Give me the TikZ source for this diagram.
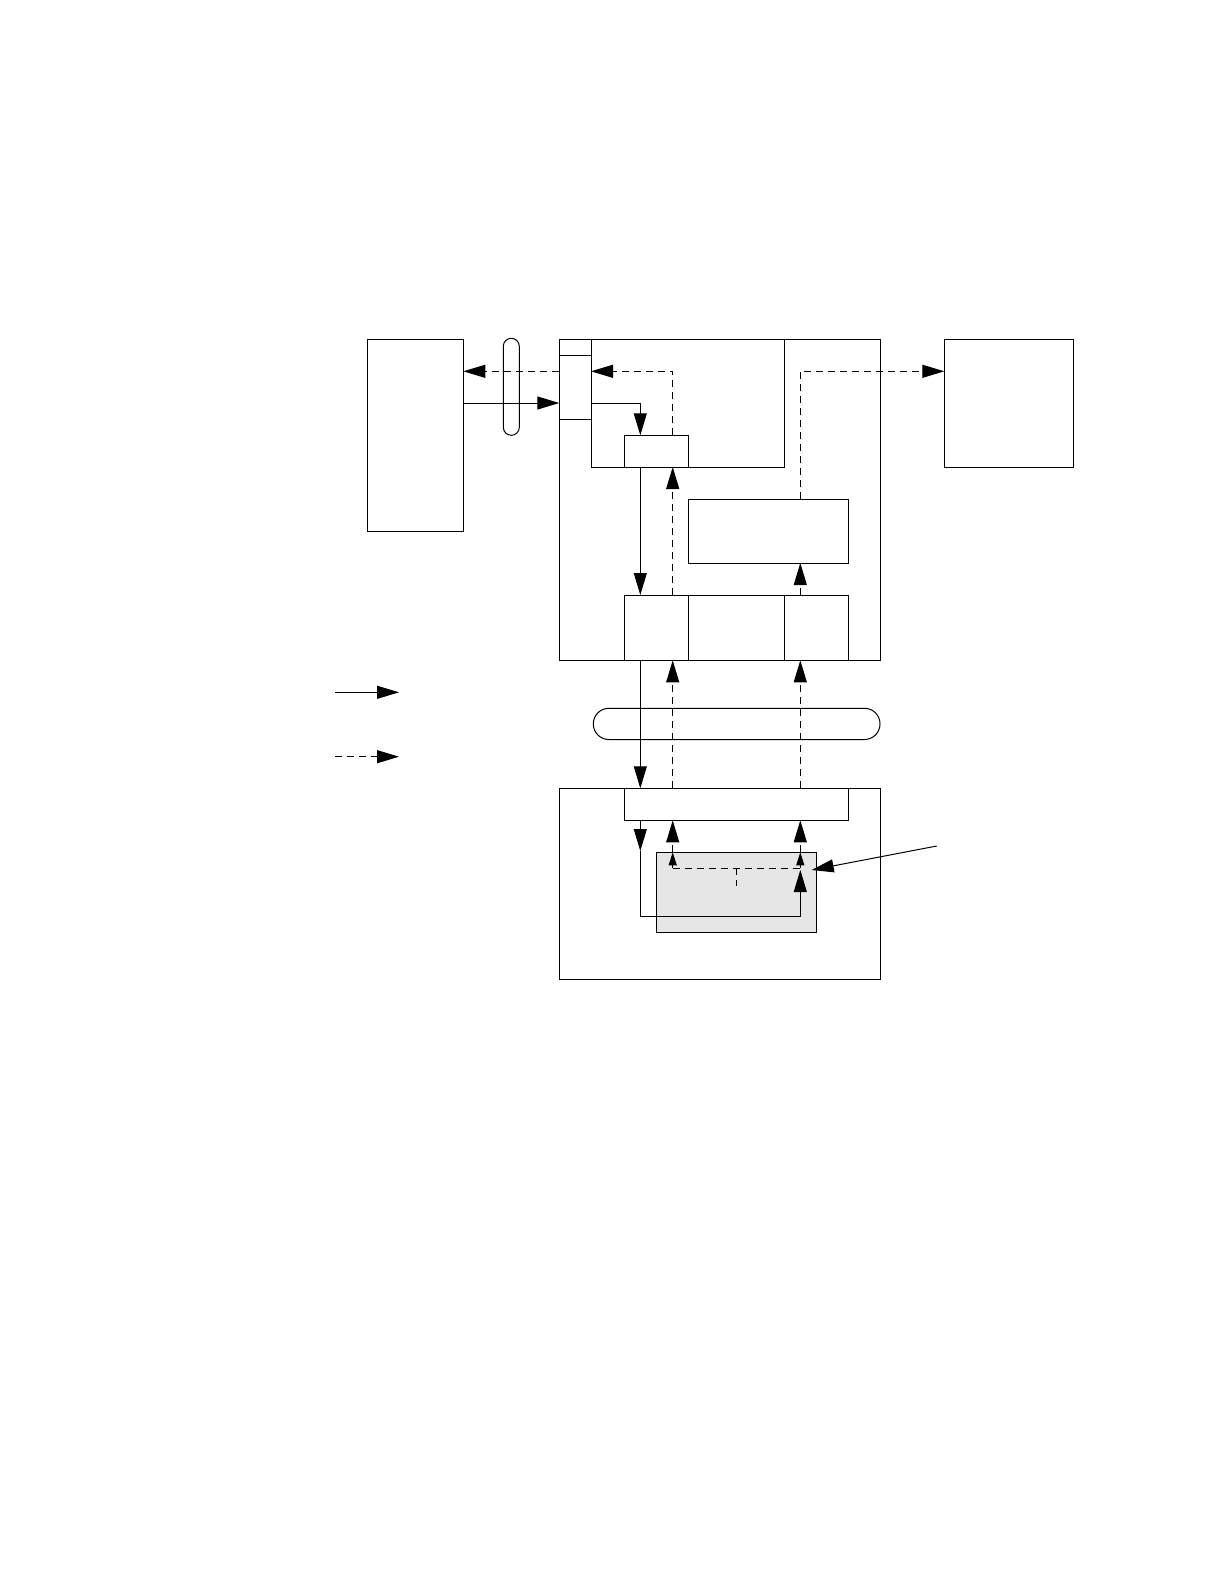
\documentclass[tikz,border=0pt]{standalone}
\usetikzlibrary{arrows.meta}
\definecolor{boxgray}{HTML}{E6E6E6}
\begin{document}
\begin{tikzpicture}[x=1pt,y=-1pt,
  line width=1pt,
  box/.style={draw,line width=1pt,inner sep=0pt,outer sep=0pt},
  oval/.style={draw,line width=1pt,inner sep=0pt,outer sep=0pt,rounded corners=#1},
  arr/.style={-{Triangle[length=22pt,width=13pt]}},
  sarr/.style={-{Triangle[length=13pt,width=8pt]}},
  dsh/.style={dash pattern=on 7pt off 5pt}]
\fill[white] (0,0) rectangle (1224,1584);
\useasboundingbox (0,0) rectangle (1224,1584);
% boxes
\node[box,minimum width=96pt,minimum height=192pt] (L) at (415.3,435.3) {};
\node[box,minimum width=321pt,minimum height=321pt] (M) at (719.8,499.8) {};
\node[box,minimum width=193.3pt,minimum height=127.7pt] (I) at (687.65,403.15) {};
\node[box,minimum width=31.7pt,minimum height=15.7pt] (Pt) at (575.15,347.15) {};
\node[box,minimum width=31.7pt,minimum height=64.3pt] (P) at (575.15,387.15) {};
\node[box,minimum width=64pt,minimum height=31.7pt] (S) at (656.3,451.15) {};
\node[box,minimum width=160pt,minimum height=63.7pt] (C) at (768.3,531.15) {};
\node[box,minimum width=64pt,minimum height=65.3pt] (R1) at (656.3,627.65) {};
\node[box,minimum width=96pt,minimum height=65.3pt] (R2) at (736.3,627.65) {};
\node[box,minimum width=64pt,minimum height=65.3pt] (R3) at (816.3,627.65) {};
\node[box,minimum width=129pt,minimum height=127.7pt] (E) at (1008.8,403.15) {};
\node[oval=8pt,minimum width=16pt,minimum height=97pt] (O1) at (511.3,386.8) {};
\node[oval=15.5pt,minimum width=286.7pt,minimum height=31.2pt] (O2) at (736.65,723.9) {};
\node[box,minimum width=321pt,minimum height=191.3pt] (B) at (719.8,883.95) {};
\node[box,minimum width=224pt,minimum height=32pt] (D) at (736.3,804.3) {};
\node[box,fill=boxgray,minimum width=160.4pt,minimum height=80pt] (G) at (736.5,892.3) {};
% guide coordinates
\coordinate (xA) at (672.7,0);
\coordinate (xB) at (800.3,0);
\coordinate (xC) at (640.3,0);
\coordinate (xT) at (736.3,0);
\coordinate (yA) at (0,371.3);
\coordinate (yB) at (0,403);
\coordinate (yH) at (0,868.3);
\coordinate (yM) at (0,851);
\coordinate (yLo) at (0,916);
\coordinate (yUp) at (0,870);
\coordinate (yT) at (0,886);
\coordinate (Q) at (936.7,846);
\coordinate (Qt) at (811.7,870);
\coordinate (k1) at (335,692.3);
\coordinate (k2) at (399,692.3);
\coordinate (k3) at (335,756.7);
\coordinate (k4) at (399,756.7);
% top connectors
\draw[dsh,arr] (S.north -| xA) |- (P.east |- yA);
\draw[dsh,arr] (P.west |- yA) -- (L.east |- yA);
\draw[arr] (L.east |- yB) -- (P.west |- yB);
\draw[arr] (P.east |- yB) -| (S.north -| xC);
\draw[arr] (S.south -| xC) -- (R1.north -| xC);
\draw[dsh,arr] (R1.north -| xA) -- (S.south -| xA);
\draw[dsh,arr] (C.north -| xB) |- (E.west |- yA);
\draw[dsh,arr] (R3.north -| xB) -- (C.south -| xB);
% bus connectors
\draw[arr] (R1.south -| xC) -- (D.north -| xC);
\draw[dsh,arr] (D.north -| xA) -- (R1.south -| xA);
\draw[dsh,arr] (D.north -| xB) -- (R3.south -| xB);
% lower connectors
\draw[arr] (D.south -| xC) -- (xC |- yM);
\draw[arr] (xC |- yM) |- (xB |- yLo) -- (xB |- yUp);
\draw[dsh] (xA |- yH) -- (xB |- yH);
\draw[dsh] (xT |- yH) -- (xT |- yT);
\draw[dsh,sarr] (xA |- yH) -- (G.north -| xA);
\draw[dsh,sarr] (xB |- yH) -- (G.north -| xB);
\draw[dsh,arr] (G.north -| xA) -- (D.south -| xA);
\draw[dsh,arr] (G.north -| xB) -- (D.south -| xB);
\draw[arr] (Q) -- (Qt);
% legend
\draw[arr] (k1) -- (k2);
\draw[dsh,arr] (k3) -- (k4);
\end{tikzpicture}
\end{document}
